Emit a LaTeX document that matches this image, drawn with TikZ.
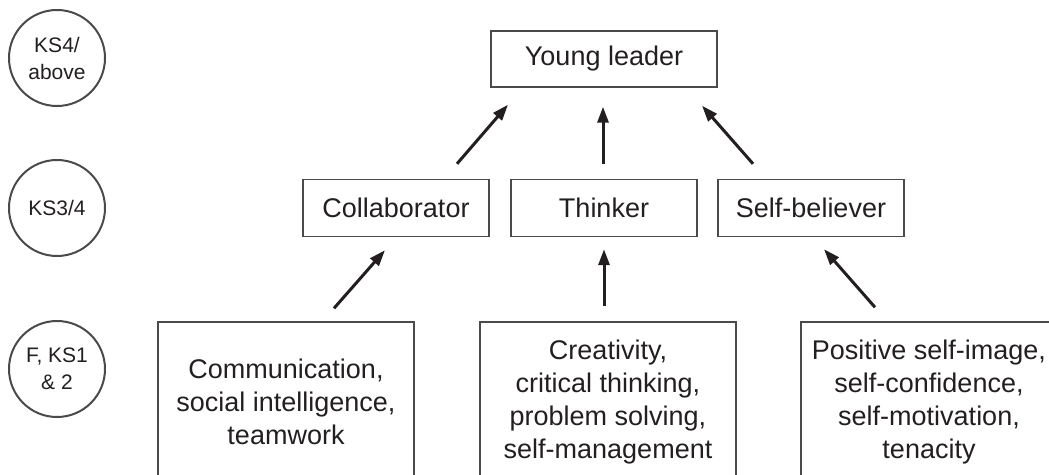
\documentclass[tikz,border=0pt]{standalone}
\usepackage{fontspec}
\setmainfont{Liberation Sans}
\usepackage{tikz}
\usetikzlibrary{arrows.meta}
\definecolor{linegray}{HTML}{4A4A4A}
\definecolor{inkgray}{HTML}{231F20}

\begin{document}
\begin{tikzpicture}[x=1pt, y=1pt,
		box/.style={draw=linegray, line width=1.4pt, inner sep=0pt, align=center, text=inkgray,
			font=\fontsize{27}{33}\selectfont},
		stage/.style={draw=linegray, line width=2pt, circle, minimum size=96pt, inner sep=0pt,
			align=center, text=inkgray, font=\fontsize{21}{27}\selectfont},
		riser/.style={-{Triangle[length=16pt, width=11pt]}, line width=3pt, inkgray}]
		\useasboundingbox (0,0) rectangle (1049,474);
		\clip (0,0) rectangle (1049,474);
		% key stages
		\node[stage] (ks4) at (57,416) {KS4/\\above};
		\node[stage] (ks3) at (57,266) {KS3/4};
		\node[stage] (ks1) at (57,105) {F, KS1\\\& 2};
		% top
		\node[box, minimum width=226pt, minimum height=56pt] (leader) at (604,415) {Young leader};
		% middle
		\node[box, minimum width=186pt, minimum height=57pt] (collab) at (396,266) {Collaborator};
		\node[box, minimum width=186pt, minimum height=57pt] (thinker) at (604,266) {Thinker};
		\node[box, minimum width=186pt, minimum height=57pt] (selfb) at (811,266) {Self-believer};
		% bottom
		\node[box, minimum width=256pt, minimum height=160pt] (comm) at (286,72)
			{Communication,\\social intelligence,\\teamwork};
		\node[box, minimum width=256pt, minimum height=160pt] (creat) at (608,72)
			{Creativity,\\critical thinking,\\problem solving,\\self-management};
		\node[box, minimum width=256pt, minimum height=160pt] (posit) at (929,72)
			{Positive self-image,\\self-confidence,\\self-motivation,\\tenacity};
		% arrows
		\draw[riser] ([xshift=61pt, yshift=15pt]collab.north) -- ([xshift=-96pt, yshift=-17pt]leader.south);
		\draw[riser] ([xshift=-1pt, yshift=15pt]thinker.north) -- ([xshift=-1pt, yshift=-19pt]leader.south);
		\draw[riser] ([xshift=-58pt, yshift=15pt]selfb.north) -- ([xshift=98pt, yshift=-18pt]leader.south);
		\draw[riser] ([xshift=48pt, yshift=13pt]comm.north) -- ([xshift=-11pt, yshift=-13pt]collab.south);
		\draw[riser] ([xshift=-4pt, yshift=15pt]creat.north) -- ([yshift=-12pt]thinker.south);
		\draw[riser] ([xshift=-54pt, yshift=14pt]posit.north) -- ([xshift=13pt, yshift=-12pt]selfb.south);
	\end{tikzpicture}
\end{document}
